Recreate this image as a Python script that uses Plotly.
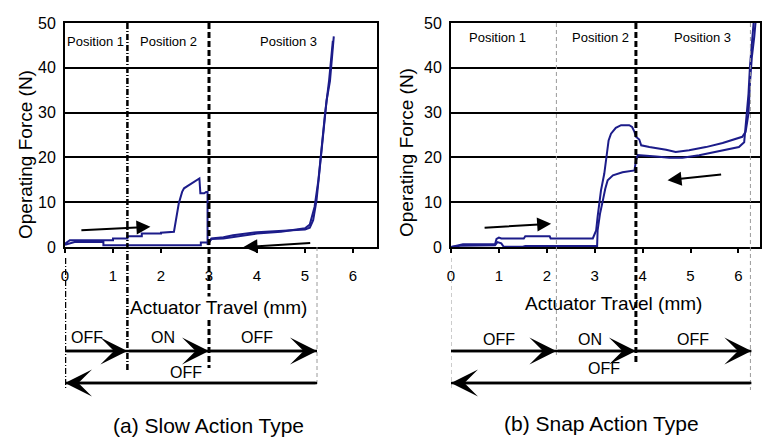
import plotly.graph_objects as go

# ---------------- data ----------------
# (a) Slow action type
slow_fwd_x = [0, 0.1, 1.0, 1.0, 1.3, 1.3, 1.6, 1.6, 2.0, 2.0, 2.27, 2.30, 2.37, 2.44, 2.48, 2.55, 2.69, 2.80,
              2.82, 2.90, 2.94, 2.97, 2.97, 3.05, 3.3, 3.5, 4.0, 4.5, 5.0, 5.1, 5.17, 5.24, 5.31, 5.38, 5.45, 5.52, 5.6]
slow_fwd_y = [0.7, 1.5, 1.5, 1.9, 1.9, 2.4, 2.4, 3.0, 3.0, 3.2, 3.4, 5.6, 9.7, 12.3, 13.1, 13.6, 14.6, 15.3,
              12.0, 12.0, 12.3, 12.3, 0.5, 1.9, 2.2, 2.6, 3.3, 3.6, 3.9, 4.3, 6.0, 10.4, 17.9, 25.3, 32.7, 37.0, 47.0]
slow_ret_x = [5.58, 5.5, 5.42, 5.35, 5.28, 5.2, 5.1, 5.0, 4.5, 4.0, 3.5, 3.3, 3.05, 3.0, 2.83, 2.83, 0.8, 0.8, 0.2, 0]
slow_ret_y = [46.0, 37.0, 30.0, 22.0, 15.0, 9.0, 5.0, 4.2, 3.4, 3.0, 2.3, 1.9, 1.8, 1.0, 1.0, 0.4, 0.4, 1.1, 1.1, 0.5]

# (b) Snap action type
snap_fwd_x = [0, 0.2, 0.25, 0.92, 0.95, 1.0, 1.05, 1.52, 1.55, 2.06, 2.08, 2.96, 3.03, 3.06, 3.13, 3.2, 3.25, 3.29,
              3.34, 3.44, 3.55, 3.72, 3.78, 3.83, 3.86, 3.93, 3.97, 4.14, 4.49, 4.69, 4.97, 5.32, 5.67, 5.94, 6.08,
              6.15, 6.21, 6.24, 6.28, 6.33, 6.36]
snap_fwd_y = [0, 0.4, 0.6, 0.6, 1.8, 2.1, 1.9, 1.9, 2.4, 2.4, 1.9, 1.9, 3.7, 6.7, 12.6, 16.4, 20.1, 23.8,
              25.3, 26.6, 27.2, 27.2, 26.8, 25.7, 24.6, 24.0, 22.7, 22.3, 21.7, 21.2, 21.6, 22.3, 23.2, 24.2, 24.6,
              25.7, 29.8, 36.5, 42.4, 46.9, 50.5]
snap_ret_x = [6.32, 6.28, 6.24, 6.21, 6.17, 6.12, 6.01, 5.53, 5.18, 4.83, 4.56, 4.28, 4.0, 3.9, 3.86, 3.83, 3.58,
              3.38, 3.27, 3.22, 3.17, 3.11, 3.06, 3.05, 1.55, 1.5, 1.1, 1.05, 0.97, 0.92, 0.2, 0]
snap_ret_y = [50.5, 46.1, 40.2, 34.2, 29.4, 23.4, 22.3, 21.2, 20.5, 19.9, 19.9, 20.2, 20.5, 20.5, 19.3, 17.1, 16.7,
              16.0, 14.9, 13.0, 10.4, 7.4, 3.7, 0.2, 0.2, 0.05, 0.05, 0.8, 1.1, 0.4, 0.3, 0]

y_ticks = [0, 10, 20, 30, 40, 50]
x_ticks = [0, 1, 2, 3, 4, 5, 6]

# switch positions (mm): start, boundaries, end of travel
slow_bounds = [0, 1.3, 3.0, 5.25]
snap_bounds = [0, 2.2, 3.86, 6.27]
state_labels = ["OFF", "ON", "OFF"]
position_labels = ["Position 1", "Position 2", "Position 3"]
slow_pos_x = [0.63, 2.16, 4.65]
snap_pos_x = [0.98, 3.13, 5.24]
slow_state_x = [0.46, 2.05, 4.0]
snap_state_x = [1.0, 2.9, 5.05]

# ---------------- figure ----------------
W, H = 766, 437
def py(p):  # pixel row -> paper y
    return 1 - p / H

BLUE = "#1c1c8a"
FONT = "Liberation Sans, Arial, sans-serif"

fig = go.Figure()
fig.add_trace(go.Scatter(x=slow_fwd_x, y=slow_fwd_y, mode="lines", line=dict(color=BLUE, width=2),
                         xaxis="x", yaxis="y", showlegend=False))
fig.add_trace(go.Scatter(x=slow_ret_x, y=slow_ret_y, mode="lines", line=dict(color=BLUE, width=2),
                         xaxis="x", yaxis="y", showlegend=False))
fig.add_trace(go.Scatter(x=snap_fwd_x, y=snap_fwd_y, mode="lines", line=dict(color=BLUE, width=2),
                         xaxis="x2", yaxis="y2", showlegend=False))
fig.add_trace(go.Scatter(x=snap_ret_x, y=snap_ret_y, mode="lines", line=dict(color=BLUE, width=2),
                         xaxis="x2", yaxis="y2", showlegend=False))

ydom = [py(247), py(23)]
xcommon = dict(tickvals=x_ticks, ticks="outside", ticklen=4, tickwidth=2, tickcolor="black",
               showline=True, linecolor="black", linewidth=2, mirror=True, showgrid=False, zeroline=False,
               tickfont=dict(family=FONT, size=15, color="black"), ticklabelstandoff=10, automargin=False)
ycommon = dict(tickvals=y_ticks, range=[0, 50], ticks="", showline=True, linecolor="black", linewidth=2,
               mirror=True, showgrid=True, gridcolor="black", gridwidth=1.5, zeroline=False,
               tickfont=dict(family=FONT, size=16, color="black"), ticklabelstandoff=4, domain=ydom,
               automargin=False)

fig.update_layout(
    width=W, height=H, margin=dict(l=0, r=0, t=0, b=0, autoexpand=False),
    paper_bgcolor="white", plot_bgcolor="white",
    xaxis=dict(domain=[65 / W, 377 / W], range=[0, 6.5], anchor="y", **xcommon),
    yaxis=dict(anchor="x", **ycommon),
    xaxis2=dict(domain=[451 / W, 760 / W], range=[0, 6.45], anchor="y2", **xcommon),
    yaxis2=dict(anchor="x2", **ycommon),
)

shapes = []
def vline(xref, x, p0, p1, color, width, dash):
    shapes.append(dict(type="line", xref=xref, yref="paper", x0=x, x1=x, y0=py(p0), y1=py(p1),
                       line=dict(color=color, width=width, dash=dash)))

GRAY = "#9a9a9a"
DD = "6px,2px,1px,2px"
# slow
vline("x", slow_bounds[0], 258, 390, "black", 2.5, DD)
vline("x", slow_bounds[1], 23, 372, "black", 2.5, DD)
vline("x", slow_bounds[2], 23, 368, "black", 3, "6px,3px")
vline("x", slow_bounds[3], 247, 387, GRAY, 1, "4px,3px")
# snap
vline("x2", snap_bounds[0], 258, 390, GRAY, 1, "4px,3px")
vline("x2", snap_bounds[1], 23, 355, GRAY, 1, "4px,3px")
vline("x2", snap_bounds[2], 23, 363, "black", 3, "6px,3px")
vline("x2", 6.25, 23, 390, GRAY, 1, "4px,3px")
# horizontal arrow lines
for xr, b in (("x", slow_bounds), ("x2", snap_bounds)):
    shapes.append(dict(type="line", xref=xr, yref="paper", x0=b[0], x1=b[-1], y0=py(351), y1=py(351),
                       line=dict(color="black", width=2.5)))
    shapes.append(dict(type="line", xref=xr, yref="paper", x0=b[0], x1=b[-1], y0=py(383), y1=py(383),
                       line=dict(color="black", width=2.5)))
fig.update_layout(shapes=shapes)

ann = []
def text(xref, x, y, s, size, **kw):
    d = dict(xref=xref, yref="paper", x=x, y=y, text=s, showarrow=False,
             font=dict(family=FONT, size=size, color="black"), xanchor="center", yanchor="middle")
    d.update(kw)
    ann.append(d)

def harrow(xref, x_from, x_to, prow):
    ann.append(dict(xref=xref, yref="paper", x=x_to, y=py(prow), axref=xref, ax=x_from, ayref="pixel", ay=0,
                    showarrow=True, arrowhead=3, arrowsize=1.8, arrowwidth=2.5, arrowcolor="black", text=""))

def parrow(xref, yref, x0, y0, x1, y1):
    ann.append(dict(xref=xref, yref=yref, x=x1, y=y1, axref=xref, ax=x0, ayref=yref, ay=y0,
                    showarrow=True, arrowhead=2, arrowsize=1.4, arrowwidth=2, arrowcolor="black", text=""))

# in-plot position labels and arrows
for i in range(3):
    text("x", slow_pos_x[i], py(41), position_labels[i], 13)
    text("x2", snap_pos_x[i], py(38), position_labels[i], 13)
parrow("x", "y", 0.31, 3.7, 1.78, 4.5)
parrow("x", "y", 5.14, 0.9, 3.72, 0.0)
parrow("x2", "y2", 0.67, 4.3, 2.09, 5.2)
parrow("x2", "y2", 5.67, 16.2, 4.52, 14.9)

# axis titles
text("paper", 25 / W, py(155), "Operating Force (N)", 19, textangle=-90)
text("paper", 406 / W, py(153), "Operating Force (N)", 19, textangle=-90)
text("x", 3.2, py(307), "Actuator Travel (mm)", 19, bgcolor="white", borderpad=0)
text("x2", 3.4, py(303), "Actuator Travel (mm)", 19)

# switch state rows
for i in range(3):
    text("x", slow_state_x[i], py(337), state_labels[i], 16)
    text("x2", snap_state_x[i], py(339), state_labels[i], 16)
    harrow("x", slow_bounds[i], slow_bounds[i + 1], 351)
    harrow("x2", snap_bounds[i], snap_bounds[i + 1], 351)
text("x", 2.52, py(372), "OFF", 16)
text("x2", 3.2, py(368), "OFF", 16)
harrow("x", slow_bounds[-1], slow_bounds[0], 383)
harrow("x2", snap_bounds[-1], snap_bounds[0], 383)

# captions
text("paper", 208 / W, py(425), "(a) Slow Action Type", 21)
text("paper", 601 / W, py(423), "(b) Snap Action Type", 21)

fig.update_layout(annotations=ann)
fig.write_html("out.html", config={"displayModeBar": False},
               post_script="document.body.style.margin='0';document.body.style.overflow='hidden';")
